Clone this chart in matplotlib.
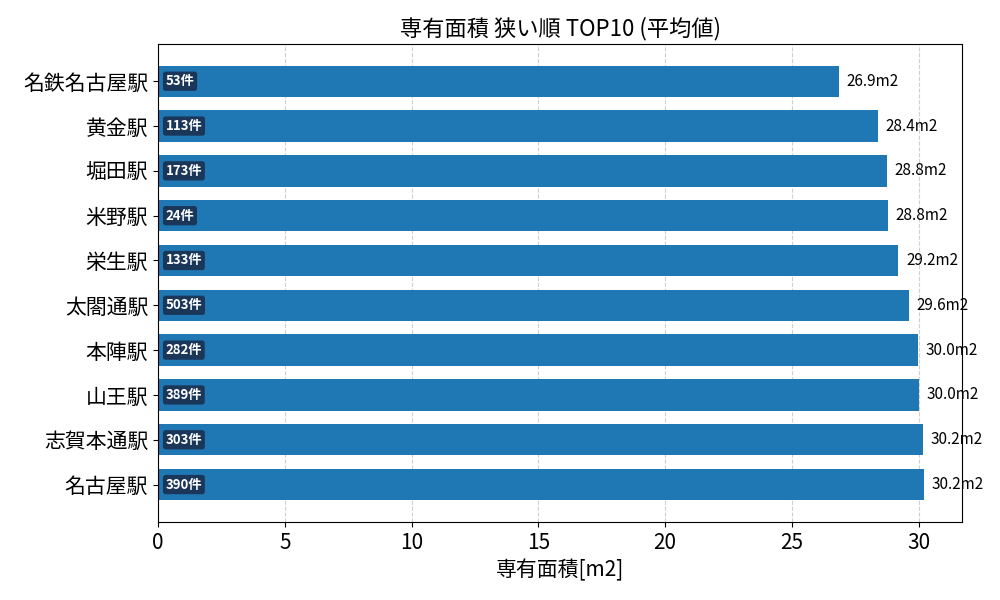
import matplotlib
matplotlib.use("Agg")
import matplotlib.pyplot as plt

plt.rcParams['font.family'] = ['Noto Sans CJK JP', 'DejaVu Sans']

stations = ["名鉄名古屋駅", "黄金駅", "堀田駅", "米野駅", "栄生駅", "太閤通駅", "本陣駅", "山王駅", "志賀本通駅", "名古屋駅"]
areas = [26.86, 28.4, 28.75, 28.8, 29.2, 29.6, 29.98, 30.0, 30.17, 30.2]
labels = ["26.9m2", "28.4m2", "28.8m2", "28.8m2", "29.2m2", "29.6m2", "30.0m2", "30.0m2", "30.2m2", "30.2m2"]
counts = [53, 113, 173, 24, 133, 503, 282, 389, 303, 390]

fig, ax = plt.subplots(figsize=(10, 6), dpi=100)
y = list(range(len(stations)))
ax.barh(y, areas, height=0.7, color="#1f77b4", zorder=2)
ax.invert_yaxis()
ax.set_yticks(y)
ax.set_yticklabels(stations, fontsize=15)
ax.tick_params(axis='x', labelsize=15)
ax.set_xlim(0, max(areas) * 1.05)
ax.grid(axis='x', linestyle='--', alpha=0.6, zorder=0)

for i in y:
    ax.text(areas[i] + 0.3, i, labels[i], va='center', fontsize=11)
    ax.text(0.3, i, f"{counts[i]}件", va='center', fontsize=9.5, color='white', fontweight='bold',
            bbox=dict(boxstyle='round,pad=0.2', facecolor='#1a3050', edgecolor='none', alpha=0.9))

ax.set_xlabel("専有面積[m2]", fontsize=15)
ax.set_title("専有面積 狭い順 TOP10 (平均値)", fontsize=16)
fig.subplots_adjust(left=0.158, right=0.962, top=0.927, bottom=0.13)
fig.savefig("out.png")
